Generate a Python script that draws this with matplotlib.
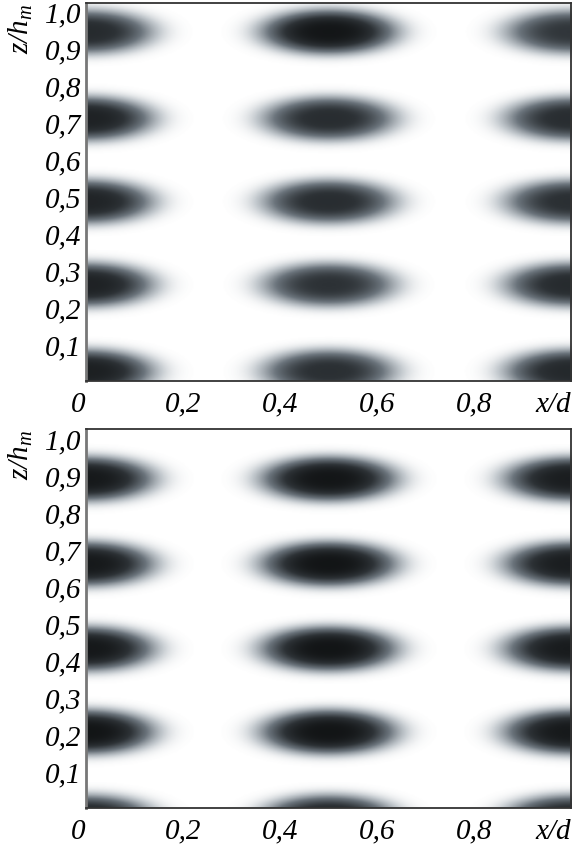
import numpy as np
import matplotlib
matplotlib.use("Agg")
import matplotlib.pyplot as plt
from matplotlib.colors import LinearSegmentedColormap

plt.rcParams['font.family'] = ['Liberation Serif', 'DejaVu Serif']
plt.rcParams['font.style'] = 'italic'
plt.rcParams['mathtext.fontset'] = 'custom'
plt.rcParams['mathtext.it'] = 'Liberation Serif:italic'
plt.rcParams['mathtext.rm'] = 'Liberation Serif:italic'

# blob columns (x/d) shared by both panels
col_x = [0.0, 0.5, 1.0]

# top panel: row heights (z/h_m) and darkness per column
top_rows = [0.945, 0.71, 0.485, 0.26, 0.025]
top_dark = [
    [0.76, 0.95, 0.68],
    [0.84, 0.74, 0.74],
    [0.82, 0.74, 0.72],
    [0.84, 0.70, 0.76],
    [0.86, 0.72, 0.78],
]

# bottom panel
bot_rows = [0.89, 0.66, 0.43, 0.205, -0.025]
bot_dark = [
    [0.92, 0.95, 0.88],
    [0.92, 0.96, 0.88],
    [0.93, 0.96, 0.90],
    [0.96, 0.96, 0.92],
    [0.82, 0.82, 0.80],
]

yticks = [0.1, 0.2, 0.3, 0.4, 0.5, 0.6, 0.7, 0.8, 0.9, 1.0]
ytick_labels = ['0,1', '0,2', '0,3', '0,4', '0,5', '0,6', '0,7', '0,8', '0,9', '1,0']
xticks = [0.0, 0.2, 0.4, 0.6, 0.8, 1.0]
xtick_labels = ['0', '0,2', '0,4', '0,6', '0,8', 'x/d']

# blob half sizes
half_x = 0.13
half_z = 0.056
power = 1.6

cmap = LinearSegmentedColormap.from_list(
    'grey', [(0.0, '#ffffff'), (0.15, '#c3c9ce'), (0.4, '#6b747c'),
             (0.7, '#2d3236'), (1.0, '#0f1112')])


def field(rows, dark, ztop):
    x = np.linspace(0, 1, 600)
    z = np.linspace(0, ztop, 500)
    X, Z = np.meshgrid(x, z)
    F = np.zeros_like(X)
    for zr, drow in zip(rows, dark):
        for xc, d in zip(col_x, drow):
            q = ((X - xc) / half_x) ** 2 + ((Z - zr) / half_z) ** 2
            F = np.maximum(F, d * np.exp(-q ** power))
    return F


fig = plt.figure(figsize=(5.77, 8.45), dpi=100)
panels = [
    (top_rows, top_dark, [0.149, 0.548, 0.8406, 0.4473], 1.022),
    (bot_rows, bot_dark, [0.149, 0.0426, 0.8406, 0.4485], 1.024),
]

for rows, dark, rect, ztop in panels:
    ax = fig.add_axes(rect)
    F = field(rows, dark, ztop)
    ax.imshow(F, cmap=cmap, vmin=0, vmax=1, origin='lower',
              extent=[0, 1, 0, ztop], aspect='auto', interpolation='bilinear')
    ax.set_xlim(0, 1)
    ax.set_ylim(0, ztop)
    ax.set_yticks(yticks)
    ax.set_yticklabels(ytick_labels)
    ax.set_xticks(xticks)
    ax.set_xticklabels(xtick_labels)
    labs = ax.get_xticklabels()
    labs[0].set_ha('right')
    labs[-1].set_ha('right')
    ax.tick_params(axis='both', length=0, labelsize=21)
    ax.tick_params(axis='x', pad=7)
    ax.tick_params(axis='y', pad=3)
    for s in ax.spines.values():
        s.set_color('#333333')
        s.set_linewidth(1.3)
    ax.spines['left'].set_color('#777777')
    ax.spines['left'].set_linewidth(2)
    ax.text(-0.135, 1.0, r'$z/h_m$', transform=ax.transAxes, rotation=90,
            ha='center', va='top', fontsize=21)

fig.savefig('out.png', dpi=100)
